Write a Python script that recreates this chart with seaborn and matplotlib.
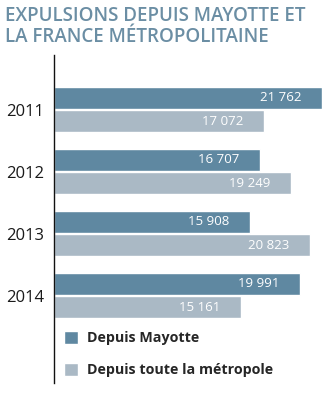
import matplotlib
matplotlib.use("Agg")
import matplotlib.pyplot as plt
import seaborn as sns
import pandas as pd

years = ["2011", "2012", "2013", "2014"]
mayotte = [21762, 16707, 15908, 19991]
metropole = [17072, 19249, 20823, 15161]
series_names = ["Depuis Mayotte", "Depuis toute la métropole"]
title_text = "EXPULSIONS DEPUIS MAYOTTE ET\nLA FRANCE MÉTROPOLITAINE"

dark = "#5f88a1"
light = "#aab9c5"
title_color = "#6b8ea4"

sns.set_style("white")
plt.rcParams["font.family"] = ["Open Sans", "DejaVu Sans"]

df = pd.DataFrame({
    "year": years * 2,
    "value": mayotte + metropole,
    "series": [series_names[0]] * 4 + [series_names[1]] * 4,
})

fig = plt.figure(figsize=(3.24, 4.0), dpi=100)
ax = fig.add_axes([54 / 324, 1 - 383 / 400, 268 / 324, 328 / 400])

sns.barplot(data=df, y="year", x="value", hue="series", orient="h",
            palette=[dark, light], width=0.76, gap=0.06, ax=ax,
            saturation=1, legend=True)

ax.set_xlim(0, max(mayotte))
ax.set_ylim(4.41, -0.879)
ax.set_xlabel("")
ax.set_ylabel("")
ax.set_xticks([])
ax.tick_params(axis="y", length=0, pad=7, labelsize=12, labelcolor="#1a1a1a")

for s in ["top", "right", "bottom"]:
    ax.spines[s].set_visible(False)
ax.spines["left"].set_color("#111111")
ax.spines["left"].set_linewidth(1.0)


def fmt(v):
    return f"{v:,}".replace(",", " ")


for cont in ax.containers:
    for rect in cont:
        w = rect.get_width()
        yc = rect.get_y() + rect.get_height() / 2
        ax.annotate(fmt(int(round(w))), xy=(w, yc), xytext=(-15, 0),
                    textcoords="offset points", ha="right", va="center",
                    color="white", fontsize=9.5)

handles, labels = ax.get_legend_handles_labels()
ax.legend(handles, labels, loc="upper left",
          bbox_to_anchor=(64 / 324, 1 - 331 / 400),
          bbox_transform=fig.transFigure, frameon=False,
          handlelength=1.0, handleheight=1.0, handletextpad=0.6,
          labelspacing=1.25, borderaxespad=0, borderpad=0,
          prop={"size": 10.3, "weight": "bold"})

fig.text(5 / 324, 1 - 6 / 400, title_text, ha="left", va="top",
         color=title_color, fontsize=13.5, fontweight="semibold",
         linespacing=1.05)

fig.savefig("out.png", dpi=100)
